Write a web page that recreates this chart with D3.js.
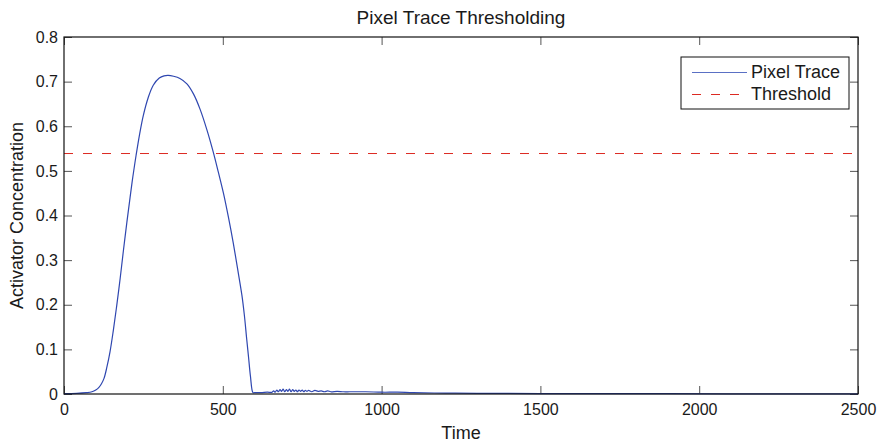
<!DOCTYPE html>
<html>
<head>
<meta charset="utf-8">
<script src="https://cdn.jsdelivr.net/npm/d3@7"></script>
<style>
  body { margin: 0; background: #fff; }
  text { font-family: "Liberation Sans", Arial, Helvetica, sans-serif; fill: #1a1a1a; }
</style>
</head>
<body>
<div id="chart"></div>
<script>
const title = "Pixel Trace Thresholding";
const xLabel = "Time";
const yLabel = "Activator Concentration";
const seriesNames = ["Pixel Trace", "Threshold"];

const xTicks = [0, 500, 1000, 1500, 2000, 2500];
const yTicks = [0, 0.1, 0.2, 0.3, 0.4, 0.5, 0.6, 0.7, 0.8];

const threshold = 0.54;

// pixel trace
const traceTime = [
  0, 40, 70, 88, 100, 110, 118, 126, 135, 145, 155, 166, 177, 187, 198, 208, 217, 227,
  238, 250, 265, 281, 300, 315, 328, 345, 365, 387, 408, 428, 450, 470, 486,
  502, 518, 533, 546, 560, 568, 575, 581, 587, 595,
  600, 620, 640, 655, 660, 665, 670, 675, 680, 685, 690, 695, 700, 705, 710,
  715, 720, 725, 730, 735, 740, 745, 750, 755, 760, 765, 770, 780, 790, 800,
  810, 820, 830, 840, 860, 880, 900, 950, 1000, 1050, 1100, 1200, 1300, 1500,
  1800, 2100, 2500
];
const traceValue = [
  0.001, 0.0015, 0.003, 0.005, 0.009, 0.015, 0.023, 0.035, 0.060, 0.095, 0.141, 0.198, 0.260, 0.321, 0.385, 0.440, 0.488, 0.535,
  0.582, 0.625, 0.664, 0.692, 0.708, 0.713, 0.714, 0.712, 0.707, 0.695, 0.672, 0.639, 0.592, 0.542, 0.497,
  0.450, 0.395, 0.338, 0.283, 0.222, 0.176, 0.125, 0.083, 0.040, 0.003,
  0.003, 0.003, 0.004, 0.004, 0.007, 0.004, 0.009, 0.005, 0.010, 0.006, 0.011, 0.005, 0.010, 0.006, 0.011,
  0.005, 0.010, 0.006, 0.009, 0.005, 0.009, 0.006, 0.009, 0.005, 0.008, 0.006, 0.008, 0.005, 0.008, 0.006,
  0.007, 0.005, 0.007, 0.005, 0.006, 0.005, 0.005, 0.005, 0.004, 0.004, 0.003, 0.002, 0.0015, 0.001,
  0.0007, 0.0005, 0.0004
];

const width = 878;
const height = 443;
const marginLeft = 64;
const marginRight = 20;
const marginTop = 37;
const marginBottom = 49;

const svg = d3.select("#chart")
  .append("svg")
  .attr("width", width)
  .attr("height", height);

const x = d3.scaleLinear()
  .domain([0, 2500])
  .range([marginLeft, width - marginRight]);
const y = d3.scaleLinear()
  .domain([0, 0.8])
  .range([height - marginBottom, marginTop]);

const plotW = width - marginLeft - marginRight;
const plotH = height - marginTop - marginBottom;
const tickLen = 8;

// axes, matlab style: inward ticks on all four sides
const bottomAxis = d3.axisBottom(x).tickValues(xTicks).tickFormat(d3.format("d"))
  .tickSizeInner(-tickLen).tickSizeOuter(0).tickPadding(10);
const topAxis = d3.axisTop(x).tickValues(xTicks).tickFormat("")
  .tickSizeInner(-tickLen).tickSizeOuter(0);
const leftAxis = d3.axisLeft(y).tickValues(yTicks).tickFormat(d => d === 0 ? "0" : d3.format(".1f")(d))
  .tickSizeInner(-tickLen).tickSizeOuter(0).tickPadding(6);
const rightAxis = d3.axisRight(y).tickValues(yTicks).tickFormat("")
  .tickSizeInner(-tickLen).tickSizeOuter(0);

function styleAxis(g) {
  g.select(".domain").remove();
  g.selectAll(".tick line").attr("stroke", "#555").attr("stroke-width", 1);
  g.selectAll(".tick text").attr("font-size", 16).attr("fill", "#1a1a1a");
}

svg.append("g").attr("transform", `translate(0,${height - marginBottom})`).call(bottomAxis).call(styleAxis);
svg.append("g").attr("transform", `translate(0,${marginTop})`).call(topAxis).call(styleAxis);
svg.append("g").attr("transform", `translate(${marginLeft},0)`).call(leftAxis).call(styleAxis);
svg.append("g").attr("transform", `translate(${width - marginRight},0)`).call(rightAxis).call(styleAxis);

// threshold
svg.append("line")
  .attr("x1", x(0)).attr("x2", x(2500))
  .attr("y1", y(threshold) + 0.5).attr("y2", y(threshold) + 0.5)
  .attr("stroke", "#dc2a22")
  .attr("stroke-width", 1)
  .attr("stroke-dasharray", "9,10");

// trace
const traceData = traceTime.map((t, i) => [t, traceValue[i]]);
svg.append("path")
  .datum(traceData)
  .attr("fill", "none")
  .attr("stroke", "#2f47b0")
  .attr("stroke-width", 1.2)
  .attr("d", d3.line().x(d => x(d[0])).y(d => y(d[1])).curve(d3.curveCatmullRom.alpha(0.5)));

// box
svg.append("rect")
  .attr("x", marginLeft).attr("y", marginTop)
  .attr("width", plotW).attr("height", plotH)
  .attr("fill", "none")
  .attr("stroke", "#111")
  .attr("stroke-width", 1.2);

// title and labels
svg.append("text")
  .attr("x", marginLeft + plotW / 2).attr("y", 24)
  .attr("text-anchor", "middle")
  .attr("font-size", 19)
  .text(title);

svg.append("text")
  .attr("x", marginLeft + plotW / 2).attr("y", 439)
  .attr("text-anchor", "middle")
  .attr("font-size", 18)
  .text(xLabel);

svg.append("text")
  .attr("transform", `translate(23,${marginTop + plotH / 2}) rotate(-90)`)
  .attr("text-anchor", "middle")
  .attr("font-size", 18)
  .text(yLabel);

// legend
const legend = svg.append("g").attr("transform", "translate(681,57)");
legend.append("rect")
  .attr("width", 168).attr("height", 52)
  .attr("fill", "#fff")
  .attr("stroke", "#111")
  .attr("stroke-width", 1);

const legendColors = ["#5a70c4", "#dc2a22"];
const legendDash = [null, "9,10"];
seriesNames.forEach((name, i) => {
  const ly = 15 + i * 22;
  legend.append("line")
    .attr("x1", 11).attr("x2", 66)
    .attr("y1", ly + 0.5).attr("y2", ly + 0.5)
    .attr("stroke", legendColors[i])
    .attr("stroke-width", 1)
    .attr("stroke-dasharray", legendDash[i]);
  legend.append("text")
    .attr("x", 70).attr("y", ly + 6)
    .attr("font-size", 18)
    .text(name);
});
</script>
</body>
</html>
